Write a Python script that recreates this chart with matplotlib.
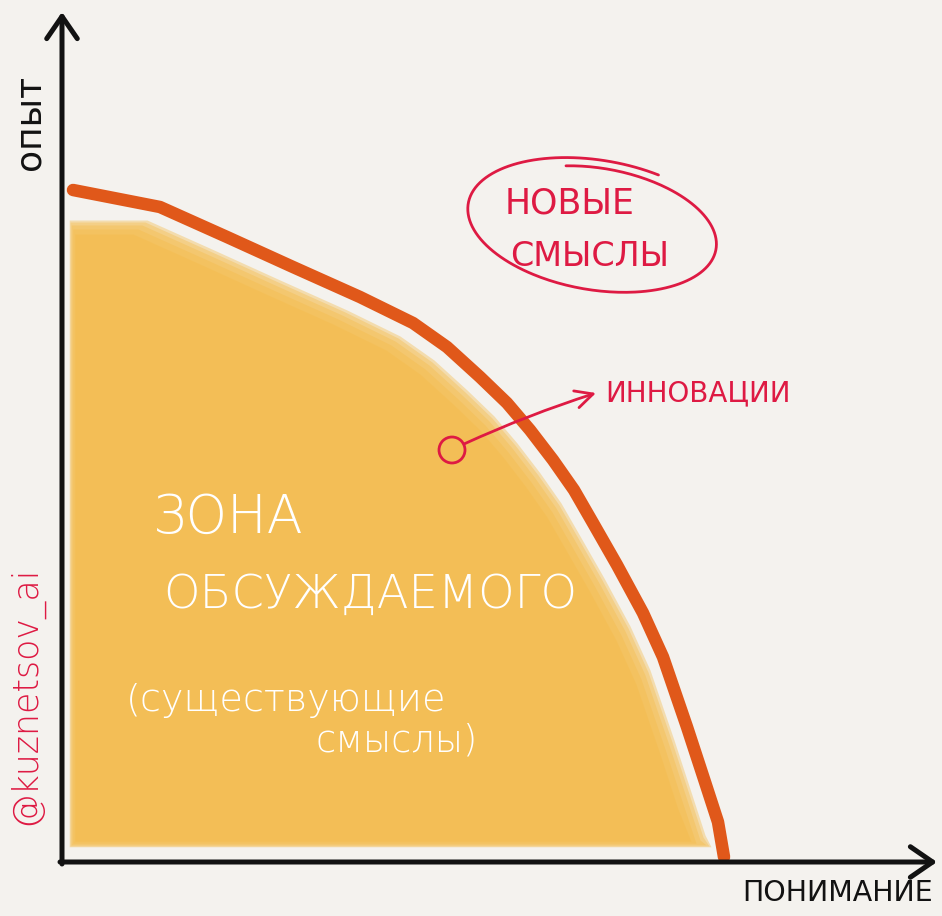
"""Hand-drawn style sketch: zone of discussed meanings vs innovation frontier."""

import matplotlib

matplotlib.use("Agg")
import matplotlib.pyplot as plt
import numpy as np
from matplotlib.patches import Circle

# frontier curve: x = "понимание", y = "опыт" (origin at the axes corner)
frontier_x = [11, 98, 165, 231, 298, 351, 385, 418, 445, 468, 491, 512, 531, 555, 581, 601, 625, 643, 656, 662]
frontier_y = [672, 655, 625, 595, 565, 539, 515, 485, 459, 432, 402, 372, 339, 297, 249, 205, 135, 80, 40, 5]

x_label = "ПОНИМАНИЕ"
y_label = "опыт"
zone_lines = ["ЗОНА", "ОБСУЖДАЕМОГО"]
zone_note = ["(существующие", "смыслы)"]
new_meanings = ["НОВЫЕ", "СМЫСЛЫ"]
innov_label = "ИННОВАЦИИ"
signature = "@kuznetsov_ai"

PAPER = "#F4F2EE"
INK = "#121212"
ORANGE = "#E0581A"
CRIMSON = "#DE1A43"


def fill_zone(ax, d, color, alpha):
    # shift the frontier inward by d and fill down to the bottom edge
    left = 2 + d * 0.4
    bottom = 10 + d * 0.4
    xs = np.array(frontier_x, float) - d
    ys = np.maximum(np.array(frontier_y, float) - d, bottom)
    keep = xs > left
    xs = np.concatenate([[left], xs[keep]])
    ys = np.concatenate([[ys[keep][0]], ys[keep]])
    ax.fill_between(xs, bottom, ys, color=color, alpha=alpha, lw=0, zorder=1)


def main() -> None:
    fig = plt.figure(figsize=(9.42, 9.16), dpi=100)
    fig.patch.set_facecolor(PAPER)
    ax = fig.add_axes([0, 0, 1, 1])
    ax.set_facecolor(PAPER)
    ax.set_xlim(-62, 880)
    ax.set_ylim(-54, 862)
    ax.axis("off")

    # watercolour zone, soft edge built from a few translucent layers
    for d in [13, 15, 18, 22, 27]:
        fill_zone(ax, d, "#F3BA48", 0.38)

    # frontier
    ax.plot(frontier_x, frontier_y, color=ORANGE, lw=9, solid_capstyle="round",
            solid_joinstyle="round", zorder=3)

    # axes
    arrow = dict(arrowstyle="->,head_length=0.8,head_width=0.55", color=INK, lw=3.6,
                 mutation_scale=20, shrinkA=0, shrinkB=0)
    ax.annotate("", xy=(0, 850), xytext=(0, -2), arrowprops=arrow, zorder=4)
    ax.annotate("", xy=(875, 0), xytext=(-2, 0), arrowprops=arrow, zorder=4)

    ax.text(776, -31, x_label, fontsize=20.5, color=INK, ha="center", va="center")
    ax.text(-32, 739, y_label, fontsize=26, color=INK, ha="center", va="center", rotation=90)

    # zone text
    white = dict(color="white", family="DejaVu Sans", weight="light", va="center", ha="left", zorder=5)
    ax.text(91, 344, zone_lines[0], fontsize=38, **white)
    ax.text(101, 267, zone_lines[1], fontsize=33.5, **white)
    ax.text(64, 162, zone_note[0], fontsize=27.5, **white)
    ax.text(253, 122, zone_note[1], fontsize=26.5, **white)

    # new meanings bubble
    ax.text(443, 659, new_meanings[0], fontsize=25, color=CRIMSON, ha="left", va="center")
    ax.text(448, 605, new_meanings[1], fontsize=24, color=CRIMSON, ha="left", va="center")
    t = np.linspace(np.pi / 2 + 0.35, -1.5 * np.pi - 0.4, 300)
    k = np.linspace(0.93, 1.07, t.size)
    a, b, rot = 126, 63, np.deg2rad(-10)
    ex = a * k * np.cos(t)
    ey = b * k * np.sin(t)
    ax.plot(534 + ex * np.cos(rot) - ey * np.sin(rot), 635 + ex * np.sin(rot) + ey * np.cos(rot),
            color=CRIMSON, lw=2, solid_capstyle="round", zorder=5)

    # innovation pointer
    ax.add_patch(Circle((390, 412), 13, fill=False, ec=CRIMSON, lw=2, zorder=5))
    ax.annotate("", xy=(534, 469), xytext=(402, 418),
                arrowprops=dict(arrowstyle="->,head_length=0.9,head_width=0.45", color=CRIMSON,
                                lw=2, mutation_scale=14, shrinkA=0, shrinkB=0,
                                connectionstyle="arc3,rad=-0.03"), zorder=5)
    ax.text(543, 469, innov_label, fontsize=20, color=CRIMSON, ha="left", va="center")

    ax.text(-36, 167, signature, fontsize=25, color=CRIMSON, weight="light",
            ha="center", va="center", rotation=90)

    fig.savefig("out.png", dpi=100, facecolor=PAPER)


if __name__ == "__main__":
    main()
